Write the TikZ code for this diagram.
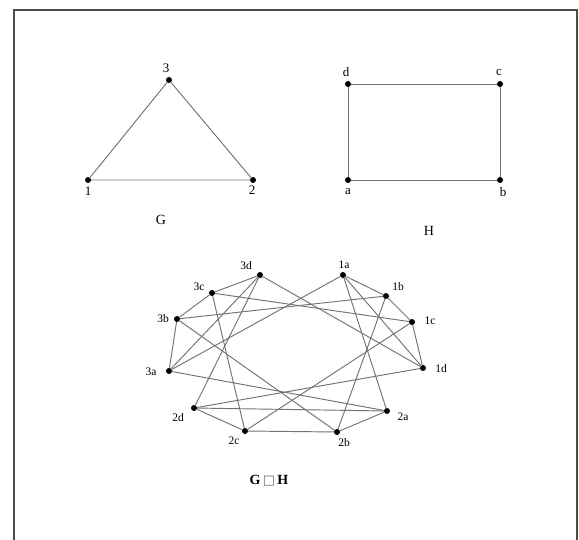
\documentclass[tikz,border=0pt]{standalone}
\usepackage{fontspec}
\setmainfont{Liberation Serif}
\newfontfamily\symf{DejaVu Sans}
\begin{document}
\begin{tikzpicture}[x=1pt,y=-1pt,
  dot/.style={circle,fill=black,inner sep=0pt,minimum size=6pt},
  edge/.style={draw=black!55,line width=0.95pt},
  lbl/.style={font=\fontsize{13}{13}\selectfont,inner sep=0pt},
  plbl/.style={font=\fontsize{11.5}{11.5}\selectfont,inner sep=0pt},
  title/.style={font=\fontsize{14}{14}\selectfont,inner sep=0pt}]
\useasboundingbox (0,0) rectangle (579,539);
\draw[line width=2pt,draw=black!70] (13.5,548) -- (13.5,9.5) -- (577,9.5) -- (577,548);

% Graph G
\node[dot] (g1) at (88,180) {};
\node[dot] (g2) at (253,180) {};
\node[dot] (g3) at (169,80) {};
\draw[edge] (g1) -- (g2) -- (g3) -- (g1);
\node[lbl] (lg1) at (88,191) {1};
\node[lbl] (lg2) at (252,190) {2};
\node[lbl] (lg3) at (166,68) {3};
\node[title] (tG) at (161,220) {G};

% Graph H
\node[dot] (ha) at (348,180) {};
\node[dot] (hb) at (500,180) {};
\node[dot] (hc) at (500,84) {};
\node[dot] (hd) at (348,84) {};
\draw[edge] (ha) -- (hb) -- (hc) -- (hd) -- (ha);
\node[lbl] (lha) at (348,192) {a};
\node[lbl] (lhb) at (503,192) {b};
\node[lbl] (lhc) at (499,72) {c};
\node[lbl] (lhd) at (346,72) {d};
\node[title] (tH) at (429,231) {H};

% Product graph
\node[dot] (p1a) at (343,275) {};
\node[dot] (p1b) at (386,296) {};
\node[dot] (p1c) at (412,322) {};
\node[dot] (p1d) at (423,368) {};
\node[dot] (p2a) at (387,411) {};
\node[dot] (p2b) at (337,432) {};
\node[dot] (p2c) at (245,431) {};
\node[dot] (p2d) at (194,408) {};
\node[dot] (p3a) at (169,371) {};
\node[dot] (p3b) at (177,319) {};
\node[dot] (p3c) at (212,293) {};
\node[dot] (p3d) at (260,275) {};

\foreach \g in {1,2,3}{
  \draw[edge] (p\g a) -- (p\g b) -- (p\g c) -- (p\g d) -- (p\g a);
}
\foreach \h in {a,b,c,d}{
  \draw[edge] (p1\h) -- (p2\h) -- (p3\h) -- (p1\h);
}

\node[plbl] (l1a) at (344,265) {1a};
\node[plbl] (l1b) at (398,287) {1b};
\node[plbl] (l1c) at (430,321) {1c};
\node[plbl] (l1d) at (441,369) {1d};
\node[plbl] (l2a) at (403,417) {2a};
\node[plbl] (l2b) at (344,443) {2b};
\node[plbl] (l2c) at (234,441) {2c};
\node[plbl] (l2d) at (178,418) {2d};
\node[plbl] (l3a) at (151,372) {3a};
\node[plbl] (l3b) at (163,319) {3b};
\node[plbl] (l3c) at (199,287) {3c};
\node[plbl] (l3d) at (246,266) {3d};

\node[title] (tGH) at (269,481) {\bfseries G\,{\symf\fontsize{13}{13}\selectfont\color{black!60}□}\,H};
\end{tikzpicture}
\end{document}
